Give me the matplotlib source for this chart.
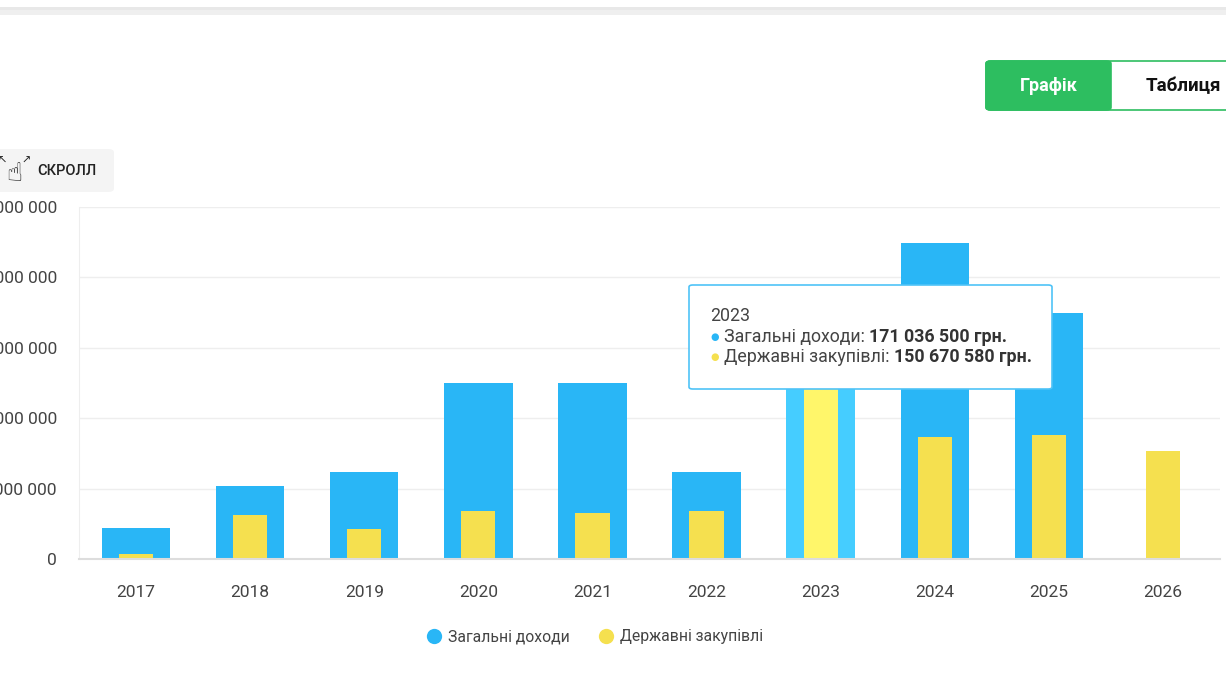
import matplotlib
matplotlib.use("Agg")
import matplotlib.pyplot as plt
from matplotlib.patches import FancyBboxPatch, Rectangle
from matplotlib.lines import Line2D
from matplotlib.text import Annotation

plt.rcParams["font.family"] = ["Roboto", "DejaVu Sans"]

# --- data (UAH) -------------------------------------------------------------
years = ["2017", "2018", "2019", "2020", "2021", "2022", "2023", "2024", "2025", "2026"]
total_income = [22_300_000, 52_000_000, 62_000_000, 124_800_000, 124_800_000,
                62_000_000, 171_036_500, 224_500_000, 174_500_000, 0]
procurement = [3_600_000, 31_000_000, 21_000_000, 34_300_000, 32_400_000,
               34_300_000, 150_670_580, 87_000_000, 88_300_000, 76_500_000]
y_ticks = [0, 50_000_000, 100_000_000, 150_000_000, 200_000_000, 250_000_000]
series_names = ["Загальні доходи", "Державні закупівлі"]
hover_idx = 6  # 2023 is highlighted, tooltip shown

BLUE, BLUE_HI = "#29b6f6", "#45cdff"
YELLOW, YELLOW_HI = "#f5e04f", "#fff66a"
TXT = "#444444"

W, H = 1226, 675
fig = plt.figure(figsize=(W / 100, H / 100), dpi=100)
fig.patch.set_facecolor("white")


def fx(px):
    return px / W


def fy(py):
    return 1 - py / H


def money(v):
    return f"{v:,}".replace(",", " ")


# top shadow band of the page
fig.patches.append(Rectangle((0, fy(15)), 1, 8 / H, transform=fig.transFigure,
                             facecolor="#efefef", edgecolor="none"))
fig.patches.append(Rectangle((0, fy(10)), 1, 3 / H, transform=fig.transFigure,
                             facecolor="#e8e8e8", edgecolor="none"))

ax = fig.add_axes([fx(79), fy(559), fx(1220) - fx(79), fy(207) - fy(559)])
x = list(range(len(years)))
blue_cols = [BLUE_HI if i == hover_idx else BLUE for i in x]
yel_cols = [YELLOW_HI if i == hover_idx else YELLOW for i in x]
ax.bar(x, total_income, width=0.6, color=blue_cols, zorder=2)
ax.bar(x, procurement, width=0.3, color=yel_cols, zorder=3)

ax.set_xlim(-0.5, len(years) - 0.5)
ax.set_ylim(0, 250_000_000)
ax.set_yticks(y_ticks)
ax.set_yticklabels([money(v) for v in y_ticks])
ax.set_xticks(x)
ax.set_xticklabels(years)
ax.tick_params(axis="y", length=0, pad=16, labelsize=12.5, labelcolor=TXT)
ax.tick_params(axis="x", length=0, pad=19, labelsize=12.5, labelcolor=TXT)
ax.grid(axis="y", color="#eeeeee", linewidth=1, zorder=0)
for s in ["top", "right"]:
    ax.spines[s].set_visible(False)
ax.spines["left"].set_color("#eeeeee")
ax.spines["bottom"].set_color("#dddddd")
ax.spines["bottom"].set_linewidth(1.5)
ax.spines["bottom"].set_zorder(4)

# legend
handles = [Line2D([], [], marker="o", linestyle="none", markersize=11,
                  markerfacecolor=c, markeredgecolor="none") for c in (BLUE, YELLOW)]
fig.legend(handles, series_names, loc="center", bbox_to_anchor=(fx(595), fy(637)),
           ncol=2, frameon=False, fontsize=11.3, labelcolor=TXT,
           handletextpad=0.4, handlelength=1.0, columnspacing=1.8)

# view switch buttons
fig.patches.append(FancyBboxPatch((fx(986), fy(110)), fx(1240) - fx(986), 49 / H,
                                  boxstyle="round,pad=0,rounding_size=0.004",
                                  transform=fig.transFigure, facecolor="white",
                                  edgecolor="#2dbe60", linewidth=1.2))
fig.patches.append(FancyBboxPatch((fx(986), fy(110)), fx(1111) - fx(986), 49 / H,
                                  boxstyle="round,pad=0,rounding_size=0.004",
                                  transform=fig.transFigure, facecolor="#2dbe60",
                                  edgecolor="#2dbe60", linewidth=1.2))
fig.text(fx(1049), fy(86), "Графік", color="white", fontsize=13, weight="bold",
         ha="center", va="center")
fig.text(fx(1146), fy(86), "Таблиця", color="#111111", fontsize=13.5, weight="bold",
         ha="left", va="center")

# scroll hint
fig.patches.append(FancyBboxPatch((fx(-10), fy(192)), fx(114) + 10 / W, 43 / H,
                                  boxstyle="round,pad=0,rounding_size=0.005",
                                  transform=fig.transFigure, facecolor="#f4f4f4",
                                  edgecolor="none"))
fig.text(fx(14), fy(174), "☝", family=["DejaVu Sans"], fontsize=19, color="#222222",
         ha="center", va="center")
fig.text(fx(2), fy(161), "↖", family=["DejaVu Sans"], fontsize=8, color="#222222",
         ha="center", va="center")
fig.text(fx(26), fy(161), "↗", family=["DejaVu Sans"], fontsize=8, color="#222222",
         ha="center", va="center")
fig.text(fx(37), fy(171), "СКРОЛЛ", fontsize=10.5, weight="medium", color="#222222",
         ha="left", va="center")

# tooltip for the hovered year
fig.patches.append(FancyBboxPatch((fx(689), fy(389)), fx(1052) - fx(689), 104 / H,
                                  boxstyle="round,pad=0,rounding_size=0.003",
                                  transform=fig.transFigure, facecolor="white",
                                  edgecolor="#4fc3f7", linewidth=1.2, zorder=10))
fig.text(fx(710), fy(316), years[hover_idx], fontsize=12.8, color=TXT, va="center", zorder=11)
rows = [(BLUE, series_names[0], total_income[hover_idx], 337),
        (YELLOW, series_names[1], procurement[hover_idx], 357)]
for col, name, val, py in rows:
    fig.text(fx(710), fy(py), "●", family=["DejaVu Sans"], fontsize=7, color=col,
             va="center", zorder=11)
    t = fig.text(fx(724), fy(py), f"{name}: ", fontsize=12.8, color=TXT, va="center", zorder=11)
    bold = Annotation(money(val) + " грн.", xy=(1, 0.5), xycoords=t, va="center",
                      ha="left", fontsize=12.8, weight="bold", color="#333333",
                      annotation_clip=False, zorder=11)
    fig.add_artist(bold)

fig.savefig("out.png", dpi=100)
